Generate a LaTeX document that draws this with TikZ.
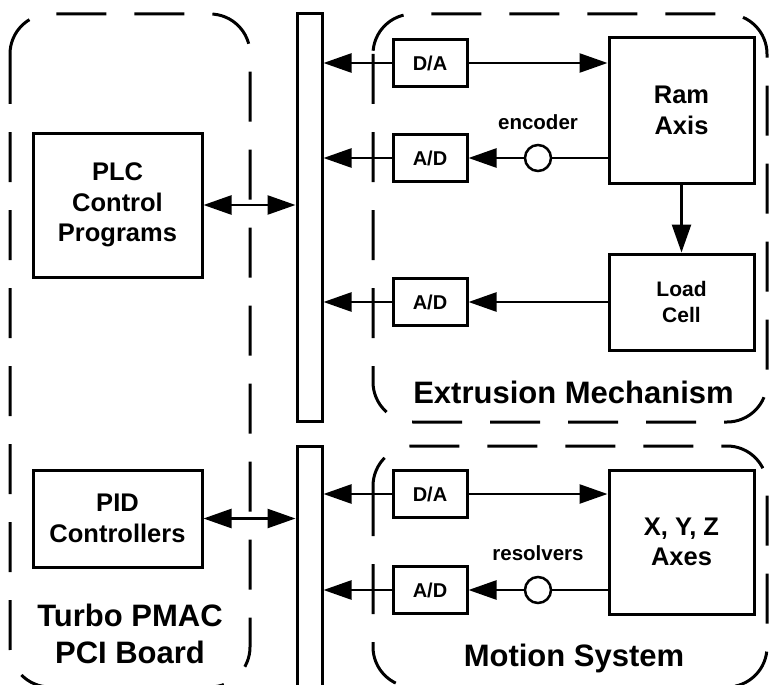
\documentclass[tikz,border=0pt]{standalone}
\usepackage{fontspec}
\setmainfont{Liberation Sans}
\usetikzlibrary{arrows.meta}
\tikzset{
    pmacbox/.style={
        draw, line width=3pt, align=center, inner sep=0pt,
        font=\fontsize{25.5}{30.6}\selectfont\bfseries},
    pmacconv/.style={pmacbox, minimum width=74pt, minimum height=47pt,
        font=\fontsize{20}{24}\selectfont\bfseries},
    pmacbus/.style={draw, line width=3pt, minimum width=25pt, inner sep=0pt},
    pmacsensor/.style={draw, circle, line width=2.5pt, minimum size=26pt, inner sep=0pt},
    pmacgroup/.style={line width=3pt, rounded corners=40pt, dash pattern=on 50pt off 28pt},
    pmaclabel/.style={font=\fontsize{31}{37}\selectfont\bfseries, align=center},
    pmactag/.style={font=\fontsize{20.5}{24}\selectfont\bfseries},
    pmacwire/.style={line width=2.5pt},
    pmacflow/.style={pmacwire, -{Triangle[length=28pt,width=19pt]}},
    pmacboth/.style={pmacwire, {Triangle[length=28pt,width=19pt]}-{Triangle[length=28pt,width=19pt]}},
}

\begin{document}
\begin{tikzpicture}[x=1pt, y=-1pt]

    \useasboundingbox (0,0) rectangle (769,685);

    % --- Turbo PMAC board ---------------------------------------------------------
    \draw[pmacgroup] (10,14) rectangle (250,687);
    \node[pmacbox, minimum width=169pt, minimum height=144pt] (plc) at (117.5,205) {%
        PLC\\Control\\Programs};
    \node[pmacbox, minimum width=169pt, minimum height=97pt] (pid) at (117.5,518.5) {%
        PID\\Controllers};
    \node[pmaclabel] (pmaclbl) at (130,634) {Turbo PMAC\\PCI Board};

    % --- Buses --------------------------------------------------------------------
    \node[pmacbus, minimum height=407pt] (bus1) at (309.5,217.5) {};
    \node[pmacbus, minimum height=250pt] (bus2) at (309.5,571) {};

    % --- Extrusion mechanism ------------------------------------------------------
    \draw[pmacgroup] (373,14) rectangle (767,422);
    \node[pmacbox, minimum width=145pt, minimum height=145pt] (ram) at (681.5,110.5) {%
        Ram\\Axis};
    \node[pmacbox, minimum width=145pt, minimum height=96pt,
        font=\fontsize{21}{25.5}\selectfont\bfseries] (load) at (681.5,302) {%
        Load\\Cell};
    \node[pmacconv] (da1) at (430,63) {D/A};
    \node[pmacconv] (ad1) at (430,158) {A/D};
    \node[pmacconv] (ad2) at (430,302) {A/D};
    \node[pmacsensor] (enc) at (538,158) {};
    \node[pmactag, anchor=base] (enclbl) at (538,129) {encoder};
    \node[pmaclabel, anchor=base] (extlbl) at (573.5,403) {Extrusion Mechanism};

    % --- Motion system ------------------------------------------------------------
    \draw[pmacgroup] (373,446) rectangle (767,687);
    \node[pmacbox, minimum width=145pt, minimum height=144pt] (xyz) at (681.5,542) {%
        X, Y, Z\\Axes};
    \node[pmacconv] (da2) at (430,494) {D/A};
    \node[pmacconv] (ad3) at (430,590) {A/D};
    \node[pmacsensor] (res) at (538,590) {};
    \node[pmactag, anchor=base] (reslbl) at (538,560) {resolvers};
    \node[pmaclabel, anchor=base] (motlbl) at (574,666) {Motion System};

    % --- Flow arrows --------------------------------------------------------------
    \draw[pmacboth] (plc.east) -- (plc.east -| bus1.west);
    \draw[pmacboth] (pid.east) -- (pid.east -| bus2.west);
    \draw[pmacflow] (da1.west) -- (da1.west -| bus1.east);
    \draw[pmacflow] (da1.east) -- (da1.east -| ram.west);
    \draw[pmacwire] (enc -| ram.west) -- (enc.east);
    \draw[pmacflow] (enc.west) -- (ad1.east);
    \draw[pmacflow] (ad1.west) -- (ad1.west -| bus1.east);
    \draw[pmacflow] (ram.south) -- (load.north);
    \draw[pmacflow] (load.west) -- (ad2.east);
    \draw[pmacflow] (ad2.west) -- (ad2.west -| bus1.east);
    \draw[pmacflow] (da2.west) -- (da2.west -| bus2.east);
    \draw[pmacflow] (da2.east) -- (da2.east -| xyz.west);
    \draw[pmacwire] (res -| xyz.west) -- (res.east);
    \draw[pmacflow] (res.west) -- (ad3.east);
    \draw[pmacflow] (ad3.west) -- (ad3.west -| bus2.east);

\end{tikzpicture}
\end{document}
